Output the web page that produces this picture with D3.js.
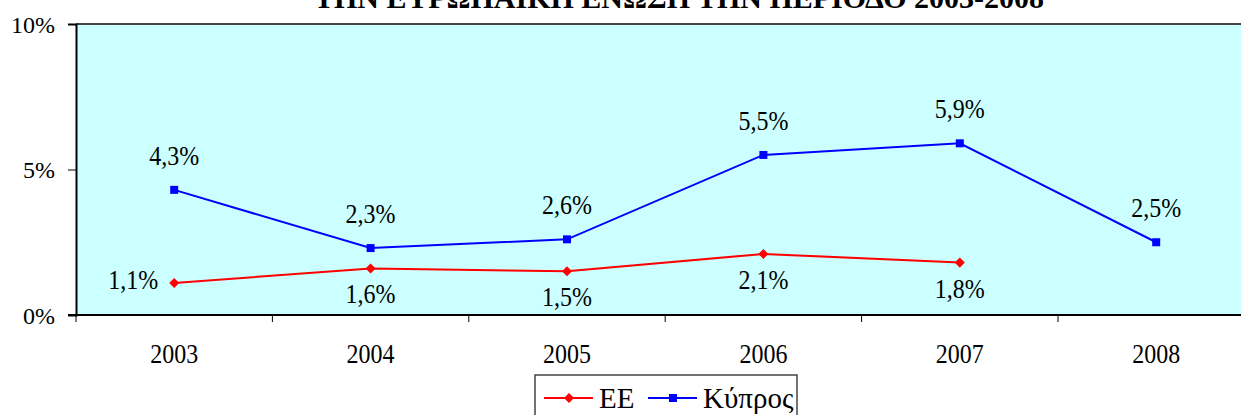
<!DOCTYPE html>
<html>
<head>
<meta charset="utf-8">
<script src="https://cdn.jsdelivr.net/npm/d3@7"></script>
<style>
  body { margin: 0; background: #fff; }
  svg text { font-family: "Times New Roman", "Liberation Serif", "DejaVu Serif", serif !important; fill: #000; }
</style>
</head>
<body>
<div id="chart"></div>
<script>
// data
var years = ["2003", "2004", "2005", "2006", "2007", "2008"];
var eeValues = [1.1, 1.6, 1.5, 2.1, 1.8, null];
var cyValues = [4.3, 2.3, 2.6, 5.5, 5.9, 2.5];
var yTicks = [0, 5, 10];
var seriesNames = ["ΕΕ", "Κύπρος"];
var titleText = "ΤΗΝ ΕΥΡΩΠΑΪΚΗ ΕΝΩΣΗ ΤΗΝ ΠΕΡΙΟΔΟ 2003-2008";

var svgWidth = 1241, svgHeight = 415;
var plot = { left: 76, top: 24, bottom: 315, band: 196.4 };

var svg = d3.select("#chart").append("svg")
  .attr("width", svgWidth)
  .attr("height", svgHeight);

var x = d3.scaleBand()
  .domain(years)
  .range([plot.left, plot.left + plot.band * years.length]);

var y = d3.scaleLinear()
  .domain([0, 10])
  .range([plot.bottom, plot.top]);

var fmt = function(v) { return v.toFixed(1).replace(".", ",") + "%"; };

// the original text looks a bit stretched vertically
function tall(sel) {
  sel.each(function() {
    var t = d3.select(this);
    var px = +t.attr("x") || 0, py = +t.attr("y") || 0;
    t.attr("transform", "translate(" + px + "," + py + ") scale(1,1.12) translate(" + (-px) + "," + (-py) + ")");
  });
}

// title (cut off at the top in the original)
svg.append("text")
  .attr("x", 679)
  .attr("y", 8)
  .attr("text-anchor", "middle")
  .attr("font-size", "30px")
  .attr("font-weight", "bold")
  .text(titleText);

// plot area
svg.append("rect")
  .attr("x", plot.left)
  .attr("y", plot.top)
  .attr("width", svgWidth - plot.left + 10)
  .attr("height", plot.bottom - plot.top)
  .attr("fill", "#CCFFFF");

svg.append("line")
  .attr("x1", plot.left).attr("x2", svgWidth)
  .attr("y1", plot.top).attr("y2", plot.top)
  .attr("stroke", "#444").attr("stroke-width", 2);

// y axis
var yAxis = d3.axisLeft(y)
  .tickValues(yTicks)
  .tickSize(8)
  .tickPadding(13)
  .tickFormat(function(d) { return d + "%"; });

var gy = svg.append("g")
  .attr("transform", "translate(" + plot.left + ",0)")
  .call(yAxis);
gy.select(".domain").attr("stroke", "#000").attr("stroke-width", 2);
gy.selectAll(".tick line").attr("stroke", "#000");
gy.selectAll(".tick text")
  .attr("font-size", "24px")
  .attr("dy", "0.34em");

// x axis: ticks at band boundaries
var gx = svg.append("g")
  .attr("transform", "translate(0," + plot.bottom + ")");
gx.append("line")
  .attr("x1", plot.left - 8).attr("x2", svgWidth)
  .attr("stroke", "#000").attr("stroke-width", 2);
gx.selectAll(".xt")
  .data(years)
  .enter()
  .append("line")
  .attr("class", "xt")
  .attr("x1", d => x(d)).attr("x2", d => x(d))
  .attr("y1", 0).attr("y2", 7)
  .attr("stroke", "#000");
gx.selectAll(".xl")
  .data(years)
  .enter()
  .append("text")
  .attr("class", "xl")
  .attr("x", d => x(d) + x.bandwidth() / 2)
  .attr("y", 48)
  .attr("text-anchor", "middle")
  .attr("font-size", "24px")
  .text(d => d)
  .call(tall);

var cx = function(i) { return x(years[i]) + x.bandwidth() / 2; };

// EE series
var eeData = eeValues.map((v, i) => ({ i: i, v: v })).filter(d => d.v !== null);
var line = d3.line().x(d => cx(d.i)).y(d => y(d.v));

svg.append("path")
  .datum(eeData)
  .attr("d", line)
  .attr("fill", "none")
  .attr("stroke", "#FF0000")
  .attr("stroke-width", 2);

svg.selectAll(".ee-pt")
  .data(eeData)
  .enter()
  .append("path")
  .attr("class", "ee-pt")
  .attr("d", d3.symbol(d3.symbolDiamond2, 64))
  .attr("transform", d => "translate(" + cx(d.i) + "," + y(d.v) + ")")
  .attr("fill", "#FF0000");

svg.selectAll(".ee-lab")
  .data(eeData)
  .enter()
  .append("text")
  .attr("class", "ee-lab")
  .attr("x", d => d.i === 0 ? cx(d.i) - 16 : cx(d.i))
  .attr("y", d => d.i === 0 ? y(d.v) + 6 : y(d.v) + 35)
  .attr("text-anchor", d => d.i === 0 ? "end" : "middle")
  .attr("font-size", "24px")
  .text(d => fmt(d.v))
  .call(tall);

// Cyprus series
var cyData = cyValues.map((v, i) => ({ i: i, v: v }));

svg.append("path")
  .datum(cyData)
  .attr("d", line)
  .attr("fill", "none")
  .attr("stroke", "#0000FF")
  .attr("stroke-width", 2);

svg.selectAll(".cy-pt")
  .data(cyData)
  .enter()
  .append("rect")
  .attr("class", "cy-pt")
  .attr("x", d => cx(d.i) - 4)
  .attr("y", d => y(d.v) - 4)
  .attr("width", 8)
  .attr("height", 8)
  .attr("fill", "#0000FF");

svg.selectAll(".cy-lab")
  .data(cyData)
  .enter()
  .append("text")
  .attr("class", "cy-lab")
  .attr("x", d => cx(d.i))
  .attr("y", d => y(d.v) - 25)
  .attr("text-anchor", "middle")
  .attr("font-size", "24px")
  .text(d => fmt(d.v))
  .call(tall);

// legend
var legend = svg.append("g");
legend.append("rect")
  .attr("x", 535).attr("y", 375)
  .attr("width", 262).attr("height", 50)
  .attr("fill", "#fff")
  .attr("stroke", "#444")
  .attr("stroke-width", 1.5);

var legItems = [
  { name: seriesNames[0], color: "#FF0000", x0: 544, sym: "diamond" },
  { name: seriesNames[1], color: "#0000FF", x0: 648, sym: "square" }
];
legItems.forEach(function(it) {
  legend.append("line")
    .attr("x1", it.x0).attr("x2", it.x0 + 49)
    .attr("y1", 398).attr("y2", 398)
    .attr("stroke", it.color).attr("stroke-width", 2);
  if (it.sym === "diamond") {
    legend.append("path")
      .attr("d", d3.symbol(d3.symbolDiamond2, 64))
      .attr("transform", "translate(" + (it.x0 + 25) + ",398)")
      .attr("fill", it.color);
  } else {
    legend.append("rect")
      .attr("x", it.x0 + 21).attr("y", 394)
      .attr("width", 8).attr("height", 8)
      .attr("fill", it.color);
  }
  legend.append("text")
    .attr("x", it.x0 + 55)
    .attr("y", 408)
    .attr("font-size", "29px")
    .text(it.name);
});
</script>
</body>
</html>
